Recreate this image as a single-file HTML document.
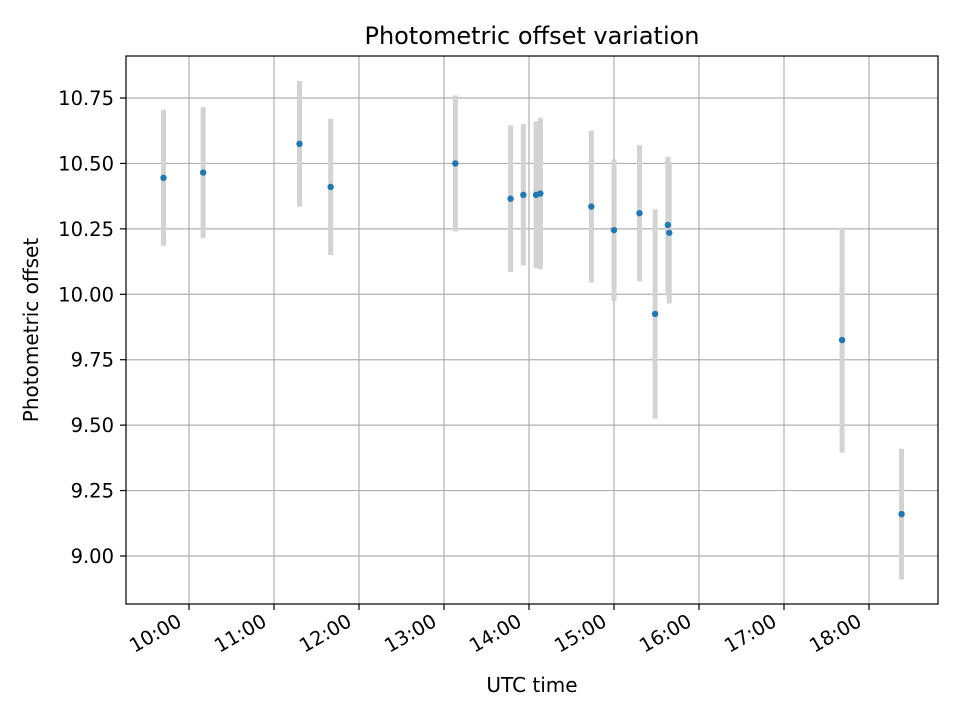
<!DOCTYPE html>
<html><head><meta charset="utf-8"><style>
body{margin:0;background:#fff}
svg{display:block;font-family:"DejaVu Sans","Liberation Sans",sans-serif}
</style></head><body>
<svg id="c" width="960" height="720">
<rect width="960" height="720" fill="#fff"/>
<g id="grid"></g><g id="marks"></g><g id="axes"></g>
</svg>
<script>
const times=["09:42","10:10","11:18","11:40","13:08","13:47","13:56","14:05","14:08","14:44","15:00","15:18","15:29","15:38","15:39","17:41","18:23"];
const offsets=[10.445,10.465,10.575,10.41,10.50,10.365,10.38,10.38,10.385,10.335,10.245,10.31,9.925,10.265,10.235,9.825,9.16];
const errors=[0.26,0.25,0.24,0.26,0.26,0.28,0.27,0.28,0.29,0.29,0.27,0.26,0.40,0.26,0.27,0.43,0.25];
const xTicks=["10:00","11:00","12:00","13:00","14:00","15:00","16:00","17:00","18:00"];
const yTicks=["9.00","9.25","9.50","9.75","10.00","10.25","10.50","10.75"];
const L=126,R=938,T=56,B=604;
const hr=s=>{const[a,b]=s.split(":").map(Number);return a+b/60;};
const X=h=>189+(h-10)*85;
const Y=v=>556-(v-9)*(458/1.75);
const NS="http://www.w3.org/2000/svg";
function mk(p,tag,at){const e=document.createElementNS(NS,tag);for(const k in at)e.setAttribute(k,at[k]);p.appendChild(e);return e;}
const g=document.getElementById("grid"),m=document.getElementById("marks"),a=document.getElementById("axes");
xTicks.forEach(t=>{const x=X(hr(t));
const l=mk(g,"line",{x1:x,x2:x,y1:T,y2:B,stroke:"#b0b0b0","stroke-width":1.2});


mk(a,"line",{x1:x,x2:x,y1:B,y2:B+6,stroke:"#000","stroke-width":1.2});
const ex=x-6,ey=B+21;
const tx=mk(a,"text",{x:ex,y:ey,"font-size":19.5,"text-anchor":"end",transform:`rotate(-30 ${ex} ${ey})`});
tx.textContent=t;

});
yTicks.forEach(t=>{const y=Y(+t);
const l=mk(g,"line",{x1:L,x2:R,y1:y,y2:y,stroke:"#b0b0b0","stroke-width":1.2});


mk(a,"line",{x1:L-6,x2:L,y1:y,y2:y,stroke:"#000","stroke-width":1.2});
const tx=mk(a,"text",{x:L-12,y:y+7,"font-size":19.5,"text-anchor":"end"});
tx.textContent=t;

});
times.forEach((t,i)=>{const x=X(hr(t));
const e=mk(m,"line",{x1:x,x2:x,y1:Y(offsets[i]+errors[i]),y2:Y(offsets[i]-errors[i]),stroke:"#d3d3d3","stroke-width":5});

});
times.forEach((t,i)=>{const c=mk(m,"circle",{cx:X(hr(t)),cy:Y(offsets[i]),r:3.2,fill:"#1f77b4"});

});
const fr=mk(a,"rect",{x:L,y:T,width:R-L,height:B-T,fill:"none",stroke:"#000","stroke-width":1.2});


const ti=mk(a,"text",{x:(L+R)/2,y:44,"font-size":24,"text-anchor":"middle"});ti.textContent="Photometric offset variation";


const xl=mk(a,"text",{x:(L+R)/2,y:692,"font-size":20,"text-anchor":"middle"});xl.textContent="UTC time";


const yl=mk(a,"text",{x:38,y:330,"font-size":20,"text-anchor":"middle",transform:"rotate(-90 38 330)"});yl.textContent="Photometric offset";


</script>
</body></html>
